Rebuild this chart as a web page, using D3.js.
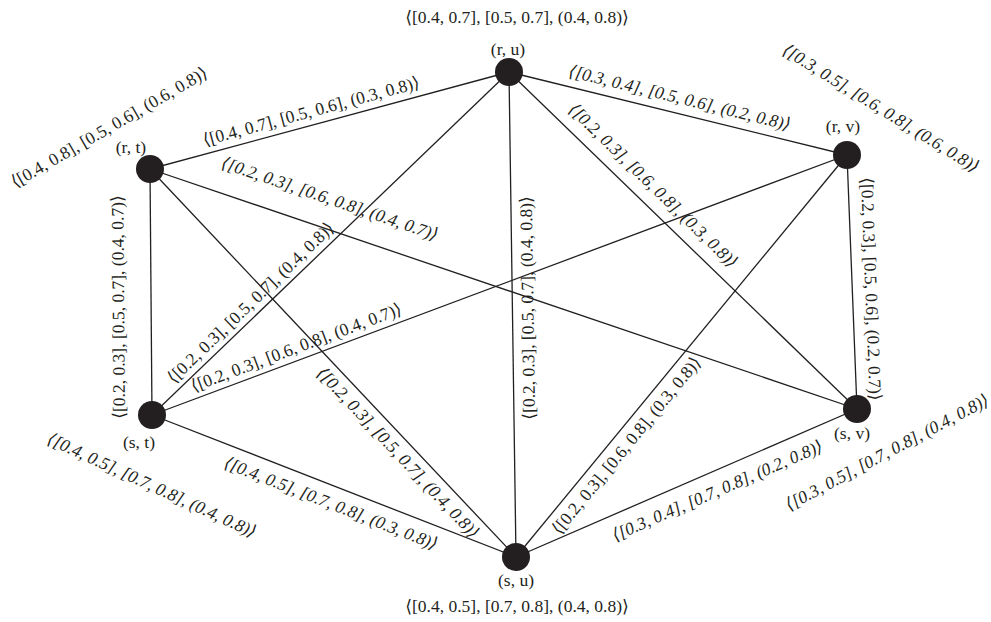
<!DOCTYPE html>
<html>
<head>
<meta charset="utf-8">
<script src="https://cdn.jsdelivr.net/npm/d3@7"></script>
<style>
  html, body { margin: 0; padding: 0; background: #fff; }
  svg { display: block; }
  text { font-family: "Liberation Serif", "DejaVu Serif", "Times New Roman", serif; fill: #231f20; }
</style>
</head>
<body>
<svg id="chart" width="991" height="622"></svg>
<script>
// ---------------- DATA ----------------
const nodeIds    = ["ru", "rt", "rv", "st", "sv", "su"];
const nodeNames  = ["(r, u)", "(r, t)", "(r, v)", "(s, t)", "(s, v)", "(s, u)"];
const nodeValues = [
  "⟨[0.4, 0.7], [0.5, 0.7], (0.4, 0.8)⟩",
  "⟨[0.4, 0.8], [0.5, 0.6], (0.6, 0.8)⟩",
  "⟨[0.3, 0.5], [0.6, 0.8], (0.6, 0.8)⟩",
  "⟨[0.4, 0.5], [0.7, 0.8], (0.4, 0.8)⟩",
  "⟨[0.3, 0.5], [0.7, 0.8], (0.4, 0.8)⟩",
  "⟨[0.4, 0.5], [0.7, 0.8], (0.4, 0.8)⟩"
];
// node layout coordinates (layout units)
const nodeX = [509, 150, 847, 152, 857, 516];
const nodeY = [72, 169, 155, 415, 409, 557];

const edgeSource = ["rt","ru","rt","st","st","st","rt","su","ru","su","rv","st","su"];
const edgeTarget = ["ru","rv","sv","ru","rv","rt","su","ru","sv","rv","sv","su","sv"];
const edgeValues = [
  "⟨[0.4, 0.7], [0.5, 0.6], (0.3, 0.8)⟩",
  "⟨[0.3, 0.4], [0.5, 0.6], (0.2, 0.8)⟩",
  "⟨[0.2, 0.3], [0.6, 0.8], (0.4, 0.7)⟩",
  "⟨[0.2, 0.3], [0.5, 0.7], (0.4, 0.8)⟩",
  "⟨[0.2, 0.3], [0.6, 0.8], (0.4, 0.7)⟩",
  "⟨[0.2, 0.3], [0.5, 0.7], (0.4, 0.7)⟩",
  "⟨[0.2, 0.3], [0.5, 0.7], (0.4, 0.8)⟩",
  "⟨[0.2, 0.3], [0.5, 0.7], (0.4, 0.8)⟩",
  "⟨[0.2, 0.3], [0.6, 0.8], (0.3, 0.8)⟩",
  "⟨[0.2, 0.3], [0.6, 0.8], (0.3, 0.8)⟩",
  "⟨[0.2, 0.3], [0.5, 0.6], (0.2, 0.7)⟩",
  "⟨[0.4, 0.5], [0.7, 0.8], (0.3, 0.8)⟩",
  "⟨[0.3, 0.4], [0.7, 0.8], (0.2, 0.8)⟩"
];

// ---------------- LAYOUT / STYLE ----------------
// edge label placement: fraction along edge, perpendicular offset (px), italic
const edgeLabelT      = [0.459, 0.494, 0.241, 0.301, 0.214, 0.44, 0.706, 0.513, 0.377, 0.30, 0.53, 0.509, 0.568];
const edgeLabelOffset = [14, 16, 30, 13, 13, 33, -14, -15, 19, -14, 19, -17, -19];
const edgeLabelItalic = [false, true, true, false, false, false, true, false, true, false, false, true, true];

// node value label placement: offset from node (layout units), rotation, italic
const valueDX     = [8, -41, 34, 0, 30, 1];
const valueDY     = [-55, -42, -47, 70, 43, 49];
const valueAngle  = [0, -30, 31.8, 24.6, -28, 0];
const valueItalic = [false, false, true, true, true, false];
// node name label offsets
const nameDX = [-1, -19, -4, -13, -5, 0];
const nameDY = [-23, -22, -29, 27, 24, 23];

const W = 991, H = 622;
const FONT = 17.5;
const R = 14;

const x = d3.scaleLinear().domain([0, 991]).range([0, W]);
const y = d3.scaleLinear().domain([0, 622]).range([0, H]);

const svg = d3.select("#chart");

const nodes = nodeIds.map((id, i) => ({
  id, name: nodeNames[i], value: nodeValues[i],
  x: x(nodeX[i]), y: y(nodeY[i]), i
}));
const byId = new Map(nodes.map(n => [n.id, n]));

const edges = edgeSource.map((s, i) => {
  const a = byId.get(s), b = byId.get(edgeTarget[i]);
  const dx = b.x - a.x, dy = b.y - a.y, len = Math.hypot(dx, dy);
  const ux = dx / len, uy = dy / len;
  const t = edgeLabelT[i], off = edgeLabelOffset[i];
  // "up" perpendicular relative to reading direction
  const px = uy, py = -ux;
  return {
    a, b, label: edgeValues[i], italic: edgeLabelItalic[i],
    lx: a.x + dx * t + px * off,
    ly: a.y + dy * t + py * off,
    angle: Math.atan2(dy, dx) * 180 / Math.PI
  };
});

// edges
svg.append("g").selectAll("line").data(edges).join("line")
  .attr("x1", d => d.a.x).attr("y1", d => d.a.y)
  .attr("x2", d => d.b.x).attr("y2", d => d.b.y)
  .attr("stroke", "#231f20").attr("stroke-width", 1.3);

// edge labels
svg.append("g").selectAll("text").data(edges).join("text")
  .attr("transform", d => `translate(${d.lx},${d.ly}) rotate(${d.angle})`)
  .attr("text-anchor", "middle")
  .attr("dominant-baseline", "central")
  .attr("font-size", FONT)
  .attr("font-style", d => d.italic ? "italic" : "normal")
  .text(d => d.label);

// nodes
svg.append("g").selectAll("circle").data(nodes).join("circle")
  .attr("cx", d => d.x).attr("cy", d => d.y).attr("r", R)
  .attr("fill", "#231f20");

// node names
svg.append("g").selectAll("text").data(nodes).join("text")
  .attr("x", d => d.x + nameDX[d.i]).attr("y", d => d.y + nameDY[d.i])
  .attr("text-anchor", "middle").attr("dominant-baseline", "central")
  .attr("font-size", FONT)
  .text(d => d.name);

// node values
svg.append("g").selectAll("text").data(nodes).join("text")
  .attr("transform", d => `translate(${d.x + valueDX[d.i]},${d.y + valueDY[d.i]}) rotate(${valueAngle[d.i]})`)
  .attr("text-anchor", "middle").attr("dominant-baseline", "central")
  .attr("font-size", FONT)
  .attr("font-style", d => valueItalic[d.i] ? "italic" : "normal")
  .text(d => d.value);
</script>
</body>
</html>
